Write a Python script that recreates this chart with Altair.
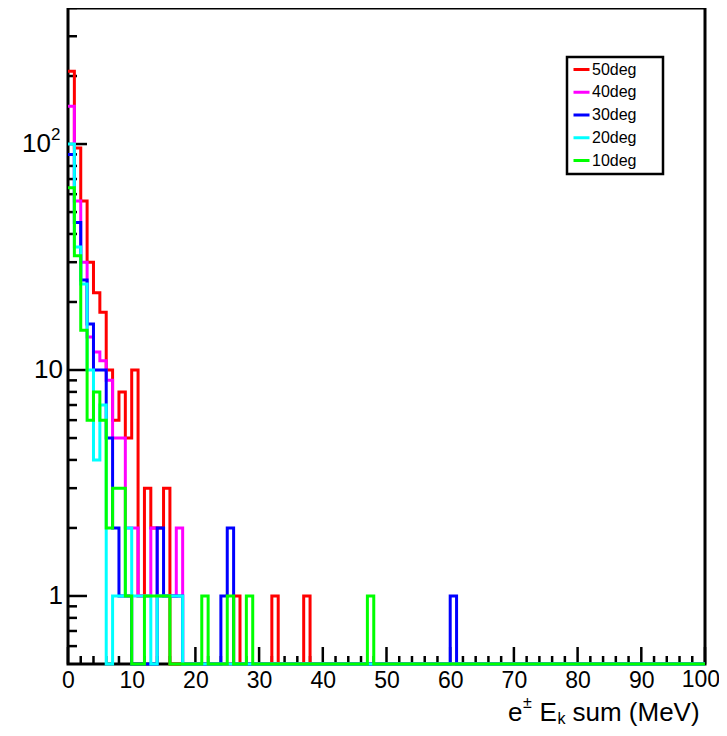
import altair as alt
import pandas as pd

# ---------------- data (counts per 1 MeV bin) -------------
N_BINS = 100
series_names = ["50deg", "40deg", "30deg", "20deg", "10deg"]
series_colors = ["#ff0000", "#ff00ff", "#0000ff", "#00ffff", "#00ff00"]

red_first = [210, 96, 56, 30, 22, 18, 10, 6, 8, 5, 10, 1, 3, 2, 2, 3]
red_extra = {26: 1, 32: 1, 37: 1}

magenta_first = [147, 56, 30, 14, 12, 11, 9, 5, 5, 2, 2, 1, 1, 2, 1, 1, 1, 2]
magenta_extra = {}

blue_first = [90, 45, 25, 16, 10, 10, 5, 2, 1, 1, 0, 0, 0, 0, 2, 1, 1, 1]
blue_extra = {24: 1, 25: 2, 60: 1}

cyan_first = [100, 35, 24, 10, 4, 7, 0, 1, 1, 2, 1, 1, 1, 0, 1, 1, 1, 1]
cyan_extra = {}

green_first = [64, 32, 15, 6, 8, 6, 2, 3, 3, 1, 0, 0, 1, 1, 1, 1]
green_extra = {21: 1, 25: 1, 28: 1, 47: 1}

x_tick_major = list(range(0, 101, 10))
x_tick_minor = [v for v in range(2, 100, 2) if v % 10 != 0]
y_tick_major = [1, 10, 100]
y_tick_minor = [0.6, 0.7, 0.8, 0.9, 2, 3, 4, 5, 6, 7, 8, 9,
                20, 30, 40, 50, 60, 70, 80, 90, 200, 300, 400]
y_labels_plain = [1, 10]
y_label_plain_text = ["1", "10"]

Y_MIN, Y_MAX = 0.5, 400
W, H = 637, 656
FONT = "Liberation Sans"


def build(first, extra):
    counts = [0] * N_BINS
    for i, v in enumerate(first):
        counts[i] = v
    for k, v in extra.items():
        counts[k] = v
    return counts


all_counts = [
    build(red_first, red_extra),
    build(magenta_first, magenta_extra),
    build(blue_first, blue_extra),
    build(cyan_first, cyan_extra),
    build(green_first, green_extra),
]

xscale = alt.Scale(domain=[0, 100], nice=False, zero=False)
yscale = alt.Scale(type="log", domain=[Y_MIN, Y_MAX], nice=False)
cscale = alt.Scale(domain=series_names, range=series_colors)

layers = []
for name, counts in zip(series_names, all_counts):
    rows = []
    for edge in range(N_BINS + 1):
        c = counts[min(edge, N_BINS - 1)]
        rows.append({"edge": edge, "count": c if c > 0 else Y_MIN, "series": name})
    df = pd.DataFrame(rows)
    layers.append(
        alt.Chart(df).mark_line(interpolate="step-after", strokeWidth=3, clip=False).encode(
            x=alt.X("edge:Q", scale=xscale,
                    axis=alt.Axis(values=x_tick_major, ticks=False, domain=False, grid=False,
                                  labelExpr="datum.value == 100 ? '' : datum.label",
                                  labelFontSize=23, labelFont=FONT, labelColor="black",
                                  labelPadding=5, labelFlush=False, labelOverlap=False,
                                  title=None)),
            y=alt.Y("count:Q", scale=yscale,
                    axis=alt.Axis(values=y_tick_major, ticks=False, domain=False, grid=False,
                                  labels=False, title=None)),
            color=alt.Color("series:N", scale=cscale,
                            legend=alt.Legend(title=None, orient="none", legendX=504, legendY=52,
                                              symbolType="stroke", symbolSize=256,
                                              symbolStrokeWidth=3, labelFontSize=16,
                                              labelFont=FONT, labelColor="black",
                                              labelOffset=1, rowPadding=4.75, padding=0,
                                              zindex=1)),
        )
    )

# ---------------- inward ticks ----------------
xt = pd.DataFrame({"t": x_tick_major})
xtm = pd.DataFrame({"t": x_tick_minor})
yt = pd.DataFrame({"t": y_tick_major})
ytm = pd.DataFrame({"t": y_tick_minor})

tick_layers = [
    alt.Chart(xt).mark_rule(color="black", strokeWidth=2.5).encode(
        x=alt.X("t:Q", scale=xscale), y=alt.value(H), y2=alt.value(H - 17)),
    alt.Chart(xtm).mark_rule(color="black", strokeWidth=2.5).encode(
        x=alt.X("t:Q", scale=xscale), y=alt.value(H), y2=alt.value(H - 8)),
    alt.Chart(yt).mark_rule(color="black", strokeWidth=2.5).encode(
        y=alt.Y("t:Q", scale=yscale), x=alt.value(0), x2=alt.value(19)),
    alt.Chart(ytm).mark_rule(color="black", strokeWidth=2.5).encode(
        y=alt.Y("t:Q", scale=yscale), x=alt.value(0), x2=alt.value(9)),
]

# ---------------- y tick labels (with 10^2 superscript) ----------------
ylab_df = pd.DataFrame({"v": y_labels_plain, "s": y_label_plain_text})
hundred_df = pd.DataFrame({"v": [100]})
ylabel_layers = [
    alt.Chart(ylab_df).mark_text(align="right", baseline="middle", font=FONT, fontSize=26,
                                 color="black", dx=-5).encode(
        y=alt.Y("v:Q", scale=yscale), x=alt.value(0), text="s:N"),
    alt.Chart(hundred_df).mark_text(text="10", align="right", baseline="middle", font=FONT,
                                    fontSize=26, color="black", dx=-17).encode(
        y=alt.Y("v:Q", scale=yscale), x=alt.value(0)),
    alt.Chart(hundred_df).mark_text(text="2", align="left", baseline="middle", font=FONT,
                                    fontSize=17, color="black", dx=-17, dy=-9).encode(
        y=alt.Y("v:Q", scale=yscale), x=alt.value(0)),
]

# last x tick label kept inside the page
last_df = pd.DataFrame({"v": [100]})
xlast = alt.Chart(last_df).mark_text(text="100", align="right", baseline="top", font=FONT,
                                     fontSize=23, color="black", dx=15).encode(
    x=alt.X("v:Q", scale=xscale), y=alt.value(H + 5))

# ---------------- legend box ----------------
box_df = pd.DataFrame({"k": [0]})
legend_box = alt.Chart(box_df).mark_rect(fill="white", stroke="black", strokeWidth=2.5).encode(
    x=alt.value(499), x2=alt.value(595), y=alt.value(49), y2=alt.value(166))


# ---------------- x title with super/subscripts ----------------
def txt(s, x, y, size):
    return alt.Chart(box_df).mark_text(text=s, align="left", baseline="alphabetic",
                                       font=FONT, fontSize=size, color="black").encode(
        x=alt.value(x), y=alt.value(y))


title_layers = [
    txt("e", 440, 713, 26),
    txt("\u00b1", 455, 700, 16),
    txt("E", 471.5, 713, 26),
    txt("k", 489.5, 716, 16),
    txt("sum (MeV)", 504.5, 713, 26),
]

chart = alt.layer(*tick_layers, legend_box, *layers, *ylabel_layers, xlast,
                  *title_layers).properties(
    width=W, height=H,
    padding={"left": 60, "top": 0, "right": 14, "bottom": 64},
    autosize="none",
    background="white",
).configure_view(stroke="black", strokeWidth=3)

chart.save("out.html", embed_options={"renderer": "svg", "actions": False})
